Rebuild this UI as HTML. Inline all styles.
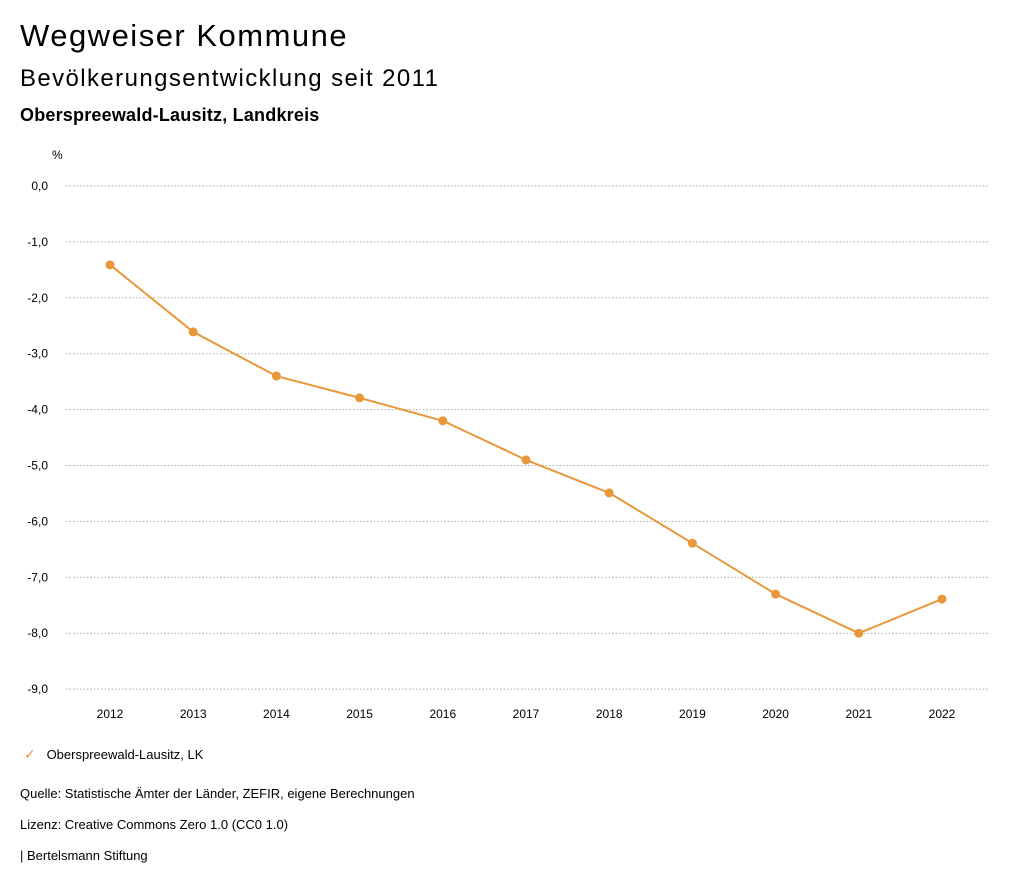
<!DOCTYPE html>
<html><head><meta charset="utf-8"><style>
body{margin:0;background:#fff;width:1024px;height:888px;overflow:hidden;font-family:"Liberation Sans","DejaVu Sans",sans-serif;color:#000}
.t{position:absolute;left:20px;white-space:nowrap}
</style></head><body>
<div class="t" style="top:18px;font-size:31px;letter-spacing:1.5px">Wegweiser Kommune</div>
<div class="t" style="top:65px;font-size:24px;letter-spacing:1.4px">Bevölkerungsentwicklung seit 2011</div>
<div class="t" style="top:105px;font-size:18px;font-weight:bold;letter-spacing:0.2px">Oberspreewald-Lausitz, Landkreis</div>
<svg id="chart" width="1024" height="888" style="position:absolute;left:0;top:0" font-family="Liberation Sans, DejaVu Sans, sans-serif"></svg>
<div class="t" style="top:746px;font-size:13px;left:24px"><span style="color:#e8973a;font-size:14px">✓</span>&nbsp;&nbsp;&nbsp;Oberspreewald-Lausitz, LK</div>
<div class="t" style="top:786px;font-size:13px">Quelle: Statistische Ämter der Länder, ZEFIR, eigene Berechnungen</div>
<div class="t" style="top:817px;font-size:13px">Lizenz: Creative Commons Zero 1.0 (CC0 1.0)</div>
<div class="t" style="top:848px;font-size:13px">| Bertelsmann Stiftung</div>
<script>
const years=[2012,2013,2014,2015,2016,2017,2018,2019,2020,2021,2022];
const values=[-1.41,-2.61,-3.40,-3.79,-4.20,-4.90,-5.49,-6.39,-7.30,-8.00,-7.39];
const yTicks=[0,-1,-2,-3,-4,-5,-6,-7,-8,-9];
const NS="http://www.w3.org/2000/svg";
const svg=document.getElementById('chart');
const xS=i=>110+i*83.2;
const yS=v=>186+(-v)*55.9;
function mk(t,a){const e=document.createElementNS(NS,t);for(const k in a)e.setAttribute(k,a[k]);svg.appendChild(e);return e;}
const u=mk('text',{x:52,y:159,'font-size':12,fill:'#000'});u.textContent='%';


yTicks.forEach(v=>{
 const l=mk('line',{x1:66,x2:990,y1:yS(v),y2:yS(v),stroke:'#aaa','stroke-dasharray':'1.5,2','stroke-width':1});
 
 
 const t=mk('text',{x:48,y:yS(v)+4,'font-size':12,'text-anchor':'end',fill:'#000'});
 t.textContent=v.toFixed(1).replace('.',',');
 
 
});
years.forEach((y,i)=>{
 const t=mk('text',{x:xS(i),y:718,'font-size':12,'text-anchor':'middle',fill:'#000'});
 t.textContent=y;
 
 
});
const p=mk('polyline',{points:values.map((v,i)=>xS(i)+','+yS(v)).join(' '),fill:'none',stroke:'#e8973a','stroke-width':2});


values.forEach((v,i)=>{
 const c=mk('circle',{cx:xS(i),cy:yS(v),r:4.5,fill:'#e8973a'});
 
 
});
</script>
</body></html>
